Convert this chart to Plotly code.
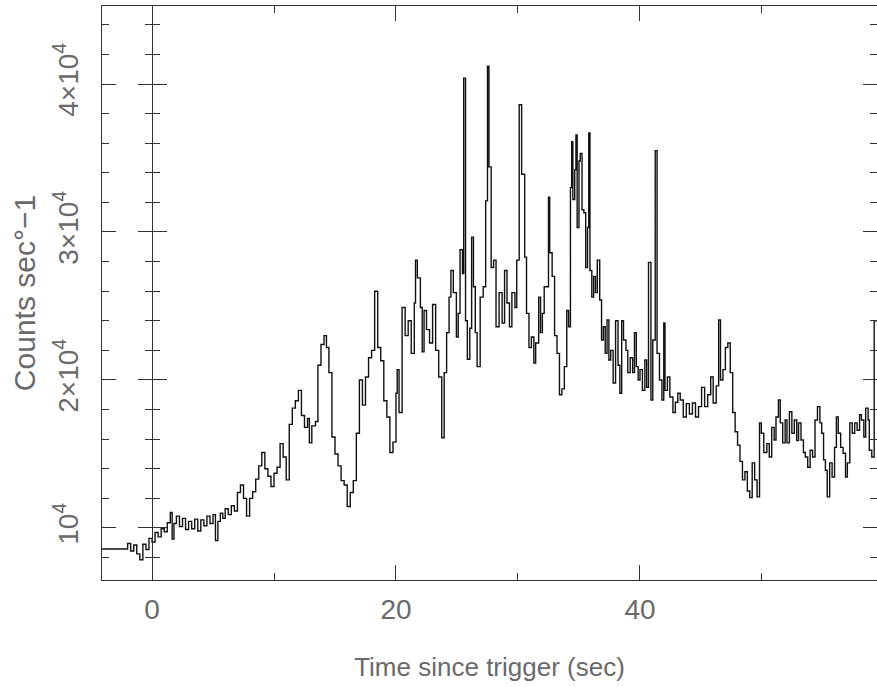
import plotly.graph_objects as go

# Bin start times (s) and count rates
time_s = [
    -4.10, -2.00, -1.75, -1.50, -1.25, -1.00, -0.75, -0.50, -0.25,
    0.00, 0.25, 0.50, 0.75, 1.00, 1.25, 1.50, 1.65, 1.80,
    2.00, 2.25, 2.50, 2.75, 3.00, 3.25, 3.50, 3.75, 4.00, 4.25, 4.50, 4.75,
    5.00, 5.20, 5.40, 5.60, 5.80, 6.00, 6.25, 6.50, 6.75,
    7.00, 7.25, 7.50, 7.75, 8.00, 8.25, 8.50, 8.75, 9.00, 9.25, 9.50, 9.75,
    10.00, 10.25, 10.50, 10.75, 11.00, 11.25, 11.50, 11.75, 12.00, 12.25,
    12.50, 12.75, 12.90, 13.10, 13.40, 13.60, 13.85, 14.10, 14.30, 14.50,
    14.75, 15.00, 15.25, 15.50, 15.75, 16.00, 16.25, 16.50, 16.75, 17.00,
    17.25, 17.50, 17.75, 18.00, 18.25, 18.50, 18.75, 19.00, 19.25, 19.50,
    19.75, 20.00, 20.10, 20.25, 20.50, 20.75, 21.00, 21.25, 21.50, 21.60,
    21.75, 22.00, 22.15, 22.30, 22.50, 22.75, 23.00, 23.25, 23.50, 23.75,
    23.95, 24.15, 24.35, 24.50, 24.70, 24.95, 25.10, 25.25, 25.45, 25.55,
    25.70, 25.85, 26.05, 26.20, 26.35, 26.50, 26.65, 26.90, 27.15, 27.35,
    27.50, 27.62, 27.80, 28.00, 28.20, 28.45, 28.70, 28.90, 29.10, 29.30,
    29.50, 29.75, 29.90, 30.10, 30.30, 30.55, 30.70, 30.90, 31.10, 31.30,
    31.45, 31.70, 31.85, 32.00, 32.15, 32.50, 32.60, 32.80, 33.00, 33.20,
    33.40, 33.60, 33.80, 34.00, 34.15, 34.30, 34.40, 34.50, 34.65, 34.75,
    34.85, 35.00, 35.10, 35.25, 35.40, 35.55, 35.70, 35.80, 35.90, 36.05,
    36.20, 36.35, 36.50, 36.70, 36.85, 37.00, 37.15, 37.30, 37.45, 37.60,
    37.80, 38.00, 38.20, 38.35, 38.50, 38.65, 38.85, 39.00, 39.20, 39.40,
    39.55, 39.70, 39.85, 40.00, 40.20, 40.40, 40.55, 40.70, 40.90, 41.05,
    41.25, 41.40, 41.60, 41.80, 41.95, 42.05, 42.25, 42.45, 42.70, 42.90,
    43.10, 43.30, 43.55, 43.80, 44.05, 44.30, 44.55, 44.80, 45.05, 45.30,
    45.55, 45.80, 46.00, 46.25, 46.45, 46.60, 46.80, 47.00, 47.20, 47.40,
    47.60, 47.80, 48.00, 48.20, 48.40, 48.60, 48.80, 49.00, 49.20, 49.40,
    49.60, 49.80, 49.95, 50.15, 50.40, 50.60, 50.80, 51.00, 51.15, 51.35,
    51.50, 51.70, 51.90, 52.05, 52.25, 52.45, 52.65, 52.85, 53.00, 53.20,
    53.40, 53.55, 53.75, 53.95, 54.15, 54.35, 54.55, 54.75, 54.90, 55.05,
    55.20, 55.35, 55.55, 55.75, 55.95, 56.10, 56.25, 56.45, 56.65, 56.85,
    57.00, 57.20, 57.40, 57.60, 57.80, 58.00, 58.15, 58.35, 58.50, 58.70,
    58.80, 59.00, 59.20, 59.50,
]

counts = [
    8580, 8950, 8450, 8850, 8250, 7850, 8900, 8550, 9300,
    9050, 9700, 9400, 9950, 9750, 10350, 11050, 9250, 10300,
    10800, 10100, 10650, 9900, 10450, 9950, 10600, 9800, 10550, 10150, 10800, 10300,
    10900, 9150, 10450, 11000, 10650, 11300, 10900, 11500, 11150,
    12400, 12900, 12000, 10800, 12000, 12450, 13300, 14200, 15100, 14000, 13500, 12800,
    13700, 14100, 15700, 14800, 13250, 17000, 18100, 18600, 19300, 17600,
    16800, 17400, 15750, 16900, 17200, 21000, 22400, 23000, 22200, 20500,
    16150, 15000, 14200, 13200, 12900, 11450, 12400, 13200, 16400, 20000,
    18300, 20200, 21500, 22000, 26000, 22200, 21300, 18600, 17500, 15100,
    15800, 19100, 20700, 17800, 24900, 23000, 24000, 21800, 25200, 28100,
    26900, 24900, 21900, 24700, 23400, 22500, 25100, 22000, 20200, 16100,
    20500, 23200, 25600, 27400, 25900, 22900, 24500, 28800, 27200, 40400,
    24000, 21400, 23500, 29650, 26300, 23200, 20900, 25600, 26300, 32100,
    41200, 34400, 27600, 28100, 23600, 25900, 23850, 27400, 25200, 23600,
    25900, 24900, 28100, 38600, 33900, 28300, 24500, 22200, 22900, 21150,
    22500, 25600, 23200, 24500, 26300, 32350, 28600, 27000, 23000, 21800,
    19000, 19400, 20900, 24700, 23600, 33000, 36100, 32200, 34200, 36550,
    30300, 34800, 35300, 31500, 31300, 27600, 30300, 36700, 27400, 25600,
    27000, 25900, 28100, 25400, 22700, 23600, 21800, 24050, 21350, 22000,
    19800, 24000, 21000, 19100, 24000, 22700, 22000, 20500, 21500, 20500,
    23200, 20900, 20000, 20700, 19300, 21350, 19500, 27950, 18650, 22700,
    35500, 21800, 20000, 18650, 23850, 19300, 20200, 18850, 17800, 18500,
    19100, 18650, 17500, 18400, 17700, 18450, 17500, 18200, 19500, 18200,
    19000, 20200, 18450, 19600, 24050, 20000, 20700, 22200, 22500, 20500,
    17800, 16500, 15600, 14500, 13250, 13800, 12500, 12050, 14400, 13250,
    12100, 17100, 16400, 15100, 15700, 14800, 16800, 15950, 17500, 18650,
    17100, 15750, 17300, 15750, 17850, 16400, 17300, 15900, 17100, 15950,
    15100, 14800, 14100, 15250, 14800, 17300, 18200, 17100, 16400, 14600,
    13900, 12100, 14400, 13450, 15450, 17500, 16400, 15450, 15050, 13450,
    14400, 17100, 16400, 17100, 16600, 17650, 17300, 16150, 18100, 17300,
    15250, 14800, 24000, 24000,
]

x_range = [-4.1, 59.43]
y_range = [6486, 45270]
x_major = [0, 20, 40]
x_major_text = ["0", "20", "40"]
x_minor = [10, 30, 50]
y_major = [10000, 20000, 30000, 40000]
y_major_text = ["10<sup>4</sup>", "2×10<sup>4</sup>", "3×10<sup>4</sup>", "4×10<sup>4</sup>"]

FRAME = "#333333"
TEXT = "#6a6a6a"
FONT = "Liberation Sans, Arial, sans-serif"

fig = go.Figure()
fig.add_trace(go.Scatter(
    x=time_s, y=counts, mode="lines",
    line=dict(shape="hv", color="#111111", width=1.4),
    hoverinfo="skip", showlegend=False,
))
# empty traces so the axes through x=0 are drawn
for ya in ("y2", "y3"):
    fig.add_trace(go.Scatter(x=[None], y=[None], xaxis="x", yaxis=ya,
                             showlegend=False, hoverinfo="skip"))

zero_pos = (0 - x_range[0]) / (x_range[1] - x_range[0])

common_y = dict(range=y_range, showgrid=False, zeroline=False, automargin=False)

fig.update_layout(
    width=877, height=687,
    margin=dict(l=102, r=0, t=6, b=107),
    paper_bgcolor="white", plot_bgcolor="white",
    font=dict(family=FONT, color=TEXT, size=24),
    hovermode=False,
    xaxis=dict(
        range=x_range, domain=[0, 1], showgrid=False, zeroline=False,
        automargin=False,
        showline=True, linecolor=FRAME, linewidth=1.3, mirror="ticks",
        ticks="inside", tickcolor=FRAME, tickwidth=1.3, ticklen=15,
        tickvals=x_major, ticktext=x_major_text,
        tickfont=dict(size=28, color=TEXT), ticklabelstandoff=4,
        minor=dict(tickmode="array", tickvals=x_minor, ticks="inside",
                   ticklen=7, tickcolor=FRAME, tickwidth=1.3),
        title=dict(text="Time since trigger (sec)", font=dict(size=26, color=TEXT),
                   standoff=34),
    ),
    yaxis=dict(
        **common_y,
        showline=True, linecolor=FRAME, linewidth=1.3, mirror="ticks",
        ticks="inside", tickcolor=FRAME, tickwidth=1.3, ticklen=14,
        tickvals=y_major, ticktext=y_major_text, tickangle=-90,
        tickfont=dict(size=28, color=TEXT), ticklabelstandoff=12,
        minor=dict(dtick=2000, tick0=0, ticks="inside", ticklen=7,
                   tickcolor=FRAME, tickwidth=1.3),
        title=dict(text="Counts sec°−1", font=dict(size=30, color=TEXT), standoff=3),
    ),
    yaxis2=dict(
        **common_y, overlaying="y", anchor="free", position=zero_pos, side="left",
        showline=True, linecolor=FRAME, linewidth=1.3,
        ticks="outside", tickcolor=FRAME, tickwidth=1.3, ticklen=14,
        tickvals=y_major, showticklabels=False,
        minor=dict(dtick=2000, tick0=0, ticks="outside", ticklen=7,
                   tickcolor=FRAME, tickwidth=1.3),
    ),
    yaxis3=dict(
        **common_y, overlaying="y", anchor="free", position=zero_pos, side="left",
        showline=False,
        ticks="inside", tickcolor=FRAME, tickwidth=1.3, ticklen=14,
        tickvals=y_major, showticklabels=False,
        minor=dict(dtick=2000, tick0=0, ticks="inside", ticklen=7,
                   tickcolor=FRAME, tickwidth=1.3),
    ),
)

fig.write_html("out.html", config={"displayModeBar": False},
               post_script="document.body.style.margin='0';")
